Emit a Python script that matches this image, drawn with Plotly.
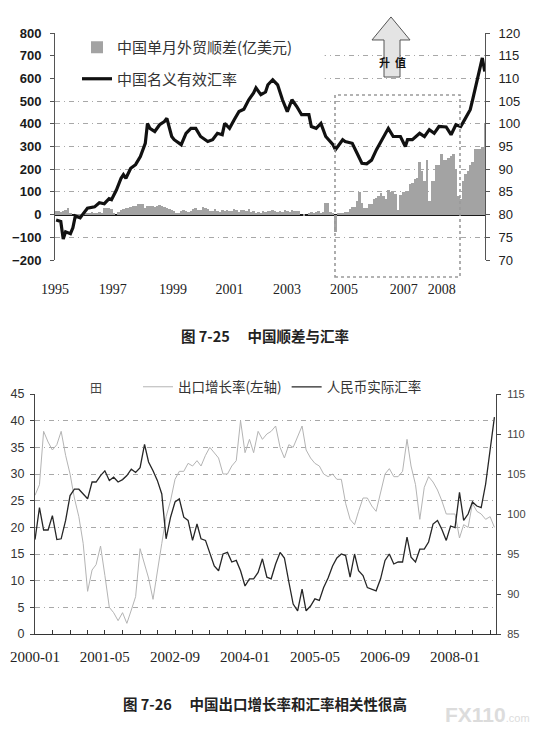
import plotly.graph_objects as go

W, H = 544, 735
OFF = 8  # the page body margin shifts the figure by this many pixels


def pp(x, y):
    # page pixel -> paper fraction
    return (x - OFF) / W, 1 - (y - OFF) / H


def px_(x):
    return pp(x, 0)[0]


def py_(y):
    return pp(0, y)[1]


# ---------- chart 1: trade surplus and NEER ----------
surplus = [
    15, 18, 12, 15, 20, 30, 3, 0, -5, -8, -5, -3,            # 1995
    5, 5, 8, 10, 5, 8, 10, 8, 30, 30, 28, 25,                # 1996
    3, 0, 10, 20, 25, 28, 30, 35, 38, 40, 45, 45,            # 1997
    45, 30, 40, 40, 38, 35, 40, 42, 40, 35, 30, 25,          # 1998
    20, 15, 5, 8, 15, 20, 15, 10, 15, 25, 30, 20,            # 1999
    20, 35, 30, 25, 15, 18, 25, 15, 12, 20, 15, 20,          # 2000
    15, 18, 25, 20, 10, 22, 20, 15, 25, 12, 18, 8,           # 2001
    10, 5, 15, 10, 18, 15, 22, 18, 10, 15, 12, 22,           # 2002
    15, 10, 20, 15, 18, 15, 0, -5, 0, 5, 10, 5,              # 2003
    10, 15, 5, 10, 50, 50, 10, 5, -75, 5, 5, 5,              # 2004
    10, 10, 25, 35, 35, 60, 100, 50, 30, 30, 45, 45,         # 2005
    70, 75, 80, 95, 80, 70, 110, 100, 100, 90, 20, 85,       # 2006
    100, 100, 105, 135, 140, 155, 160, 230, 190, 150, 240, 60,   # 2007
    150, 150, 220, 220, 265, 240, 240, 250, 260, 265, 200, 80,   # 2008
    70, 150, 180, 190, 220, 230, 290, 290, 290, 300, 400,        # 2009
]
surplus_months = [f"{1995 + i // 12}-{i % 12 + 1:02d}-15" for i in range(len(surplus))]

neer_months = [
    "1995-01", "1995-03", "1995-04", "1995-05", "1995-07", "1995-08", "1995-09", "1995-11", "1995-12",
    "1996-02", "1996-05", "1996-07", "1996-09", "1996-11", "1996-12",
    "1997-02", "1997-04", "1997-05", "1997-06", "1997-08", "1997-10", "1997-12",
    "1998-02", "1998-03", "1998-04", "1998-06", "1998-08", "1998-10", "1998-11",
    "1999-01", "1999-02", "1999-05", "1999-07", "1999-09", "1999-11",
    "2000-01", "2000-04", "2000-06", "2000-08", "2000-10", "2000-11",
    "2001-01", "2001-03", "2001-05", "2001-07", "2001-09", "2001-11", "2001-12",
    "2002-02", "2002-04", "2002-05", "2002-07", "2002-09", "2002-11",
    "2003-01", "2003-03", "2003-05", "2003-07", "2003-10", "2003-11",
    "2004-01", "2004-03", "2004-05", "2004-08", "2004-09", "2004-12",
    "2005-01", "2005-04", "2005-06", "2005-08", "2005-10", "2005-12",
    "2006-02", "2006-04", "2006-07", "2006-09", "2006-12",
    "2007-02", "2007-03", "2007-05", "2007-08", "2007-10", "2007-12",
    "2008-02", "2008-04", "2008-07", "2008-09", "2008-11",
    "2009-01", "2009-03", "2009-05", "2009-06", "2009-08", "2009-10", "2009-11",
]
neer = [
    78.8, 78.5, 74.6, 76.2, 75.8, 77.1, 79.7, 79.3, 80.0,
    81.4, 81.7, 82.6, 82.4, 83.5, 83.3,
    85.4, 88.0, 88.8, 88.0, 90.2, 91.0, 92.8,
    95.7, 100.1, 99.0, 98.3, 99.8, 100.5, 101.2,
    97.2, 96.5, 95.4, 97.9, 99.0, 99.0,
    97.2, 96.1, 96.5, 97.9, 97.6, 100.1,
    99.0, 100.9, 102.7, 103.2, 105.3, 106.8, 107.9,
    106.4, 107.0, 108.6, 109.7, 108.6, 105.3,
    102.7, 105.3, 103.8, 102.0, 102.0, 99.4,
    99.0, 100.1, 97.2, 95.4, 94.3, 96.5,
    96.1, 95.7, 93.5, 91.3, 91.2, 92.0,
    94.3, 96.1, 99.0, 97.2, 97.2,
    95.0, 96.5, 96.5, 97.9, 97.2, 98.7,
    97.9, 99.4, 99.3, 97.6, 99.8,
    99.4, 101.2, 103.1, 105.3, 109.7, 114.5, 111.5,
]
top_ticks = ["1995-01-01", "1997-01-01", "1999-02-01", "2001-01-15", "2003-01-10",
             "2005-01-01", "2007-01-25", "2008-05-20"]
top_labels = ["1995", "1997", "1999", "2001", "2003", "2005", "2007", "2008"]

# ---------- chart 2: export growth and real exchange rate ----------
export_growth = [
    26, 28, 38, 36, 34.5, 35.5, 38, 33.5, 30, 25.5, 22, 17, 8, 12, 13, 16.5,
    11, 5, 4, 2.5, 4, 2, 4.5, 7, 16, 13, 10.5, 6.5, 12, 17, 22, 25,
    29, 30.5, 30.5, 32, 31.5, 32.5, 31.5, 33.5, 35, 34, 33, 30, 30, 31.5,
    32.5, 40, 34, 36.5, 34, 38, 36.5, 37.5, 38, 39, 35, 33, 35.5, 35,
    37, 39, 34.5, 33, 32, 31.5, 30, 29.5, 30, 29, 29, 24.5, 21.5, 20.5,
    23, 25.5, 25.5, 24, 23, 26.5, 30, 31, 29.5, 29.5, 30.5, 36.5, 31.5,
    28, 21.5, 27.5, 29.5, 28.5, 27, 25, 22.5, 22.5, 22.5, 18, 20.5, 20,
    24.5, 23, 22.5, 21.5, 22, 20,
]
reer = [
    96.8, 100.8, 98, 98, 99.8, 96.8, 96.9, 99.2, 102.3, 103.1, 103.1, 102.5,
    101.9, 104, 104, 104.8, 105.4, 104.2, 104.6, 104, 104.3, 104.8, 105.6,
    105.2, 105.8, 108.7, 106.5, 105.4, 104.2, 102.5, 96.9, 99.6, 101.5,
    101.9, 99.6, 99.2, 96.7, 98.75, 96.9, 96.7, 95.2, 93.5, 92.9, 95, 95.2,
    94, 94.2, 92.9, 91, 91.9, 91.9, 92.7, 94.4, 92.1, 91.9, 93.75, 95.2,
    94.5, 91.5, 88.75, 87.9, 90.6, 87.9, 88.5, 89.4, 89.2, 90.8, 92, 93.5,
    94.5, 95, 94.8, 92.1, 95, 92.9, 92.3, 90.8, 90.6, 90.4, 91.9, 94.2, 95,
    93.75, 94, 94, 97.1, 94.6, 94, 95.6, 95.6, 96.5, 98.75, 99.2, 98.1,
    96.7, 98.5, 98.3, 102.7, 99.2, 100, 101.5, 101, 100.8, 103.75, 108.3, 112.1,
]
months2 = [f"{2000 + i // 12}-{i % 12 + 1:02d}-01" for i in range(len(export_growth))]
bottom_ticks = ["2000-01-01", "2001-05-01", "2002-09-01", "2004-01-01",
                "2005-05-01", "2006-09-01", "2008-01-01"]

SANS = "Liberation Sans"
SERIF = "Liberation Serif"
CJK = "Noto Sans CJK SC"

fig = go.Figure()

fig.add_trace(go.Bar(
    x=surplus_months, y=surplus, width=2.75e9,
    marker=dict(color="#a3a3a3", line=dict(width=0)),
    name="中国单月外贸顺差(亿美元)", legend="legend", legendgroup="a",
    xaxis="x", yaxis="y",
))
fig.add_trace(go.Scatter(
    x=[m + "-15" for m in neer_months], y=neer, mode="lines",
    line=dict(color="#111111", width=3.2),
    name="中国名义有效汇率", legend="legend", legendgroup="b",
    xaxis="x", yaxis="y2",
))
fig.add_trace(go.Scatter(
    x=months2, y=export_growth, mode="lines",
    line=dict(color="#b4b4b4", width=1),
    name="出口增长率(左轴)", legend="legend2",
    xaxis="x2", yaxis="y3",
))
fig.add_trace(go.Scatter(
    x=months2, y=reer, mode="lines",
    line=dict(color="#262626", width=1.3),
    name="人民币实际汇率", legend="legend2",
    xaxis="x2", yaxis="y4",
))

grid = dict(showgrid=True, gridcolor="#a8a8a8", gridwidth=1, griddash="5px,4px,1px,4px")

fig.update_layout(
    template="none",
    width=W, height=H,
    margin=dict(l=0, r=0, t=0, b=0, pad=0),
    paper_bgcolor="white", plot_bgcolor="white",
    bargap=0,
    showlegend=True,
    xaxis=dict(
        domain=[px_(55), px_(485)], anchor="y", type="date", automargin=False,
        range=["1995-01-01", "2009-11-18"],
        tickmode="array", tickvals=top_ticks, ticktext=top_labels,
        tickfont=dict(family=SERIF, size=14, color="#222"),
        showgrid=False, showline=False, zeroline=False, ticks="",
        ticklabelstandoff=19,
    ),
    yaxis=dict(
        domain=[py_(260), py_(33)], anchor="x", automargin=False,
        range=[-200, 800], dtick=100, **grid,
        showline=True, linecolor="#555", linewidth=1,
        ticks="outside", ticklen=4, tickcolor="#555",
        zeroline=True, zerolinecolor="#1a1a1a", zerolinewidth=1.6,
        tickfont=dict(family=SANS, size=13, color="#1a1a1a", weight="bold"),
        ticklabelstandoff=6,
    ),
    yaxis2=dict(
        overlaying="y", anchor="x", side="right", automargin=False,
        range=[70, 120], dtick=5, showgrid=False, zeroline=False,
        showline=True, linecolor="#555", linewidth=1,
        ticks="outside", ticklen=4, tickcolor="#555",
        tickfont=dict(family=SANS, size=13, color="#222"),
        ticklabelstandoff=6,
    ),
    xaxis2=dict(
        domain=[px_(35), px_(496)], anchor="y3", type="date", automargin=False,
        range=["2000-01-01", "2008-10-12"],
        tickmode="array", tickvals=bottom_ticks, tickformat="%Y-%m",
        tickfont=dict(family=SERIF, size=15, color="#222"),
        showgrid=False, zeroline=False,
        showline=True, linecolor="#333", linewidth=1,
        ticks="inside", ticklen=4, tickcolor="#333",
        minor=dict(dtick="M4", tick0="2000-01-01", ticks="inside", ticklen=4,
                   tickcolor="#333", showgrid=False),
        ticklabelstandoff=9,
    ),
    yaxis3=dict(
        domain=[py_(634), py_(394)], anchor="x2", automargin=False,
        range=[0, 45], dtick=5, **grid, zeroline=False,
        showline=True, linecolor="#444", linewidth=1,
        ticks="outside", ticklen=4, tickcolor="#444",
        tickfont=dict(family=SANS, size=12.5, color="#333"),
        ticklabelstandoff=3,
    ),
    yaxis4=dict(
        overlaying="y3", anchor="x2", side="right", automargin=False,
        range=[85, 115], dtick=5, showgrid=False, zeroline=False,
        showline=True, linecolor="#444", linewidth=1,
        ticks="outside", ticklen=4, tickcolor="#444",
        tickfont=dict(family=SANS, size=11, color="#444"),
        ticklabelstandoff=4,
    ),
    legend=dict(
        x=px_(77), y=py_(31), xanchor="left", yanchor="top",
        bgcolor="rgba(255,255,255,0)", tracegroupgap=9,
        font=dict(family=CJK, size=15, color="#333"),
    ),
    legend2=dict(
        orientation="h", x=px_(138), y=py_(387),
        xanchor="left", yanchor="middle", bgcolor="white",
        font=dict(family=CJK, size=13.5, color="#333"),
        itemwidth=30,
    ),
)

# hide the grid behind the top legend (drawn beneath the traces)
fig.add_shape(type="rect", xref="x", yref="y", layer="between",
              x0="1994-12-01", x1="2004-05-01", y0=565, y1=850,
              fillcolor="white", line=dict(width=0))

# dotted box around 2005-2008
bx0, by0 = pp(335, 95)
bx1, by1 = pp(460, 277)
fig.add_shape(type="rect", xref="paper", yref="paper", x0=bx0, y0=by1, x1=bx1, y1=by0,
              line=dict(color="#9a9a9a", width=1.6, dash="dot"))

# "升值" block arrow
pts = [(391, 17), (410, 40), (400, 40), (400, 77), (384, 77), (384, 40), (372, 40)]
path = "M " + " L ".join(f"{pp(a, b)[0]:.4f},{pp(a, b)[1]:.4f}" for a, b in pts) + " Z"
fig.add_shape(type="path", xref="paper", yref="paper", path=path,
              fillcolor="#e4e4e4", line=dict(color="#555", width=1))

notes = [
    (392, 62, "升  值", dict(family=CJK, size=11, color="#111", weight="bold")),
    (265, 335, "图 7-25　 中国顺差与汇率", dict(family=CJK, size=14.5, color="#222", weight="bold")),
    (265, 703, "图 7-26　 中国出口增长率和汇率相关性很高", dict(family=CJK, size=14.5, color="#222", weight="bold")),
    (96, 387, "田", dict(family=CJK, size=12, color="#444")),
    (487, 714, "<b>FX110</b><span style='font-size:11px'>.com</span>",
     dict(family=SANS, size=21, color="#dcdcdc")),
]
for x, y, text, font in notes:
    ax, ay = pp(x, y)
    fig.add_annotation(x=ax, y=ay, xref="paper", yref="paper", text=text,
                       showarrow=False, font=font, xanchor="center", yanchor="middle")

fig.write_html("out.html")
